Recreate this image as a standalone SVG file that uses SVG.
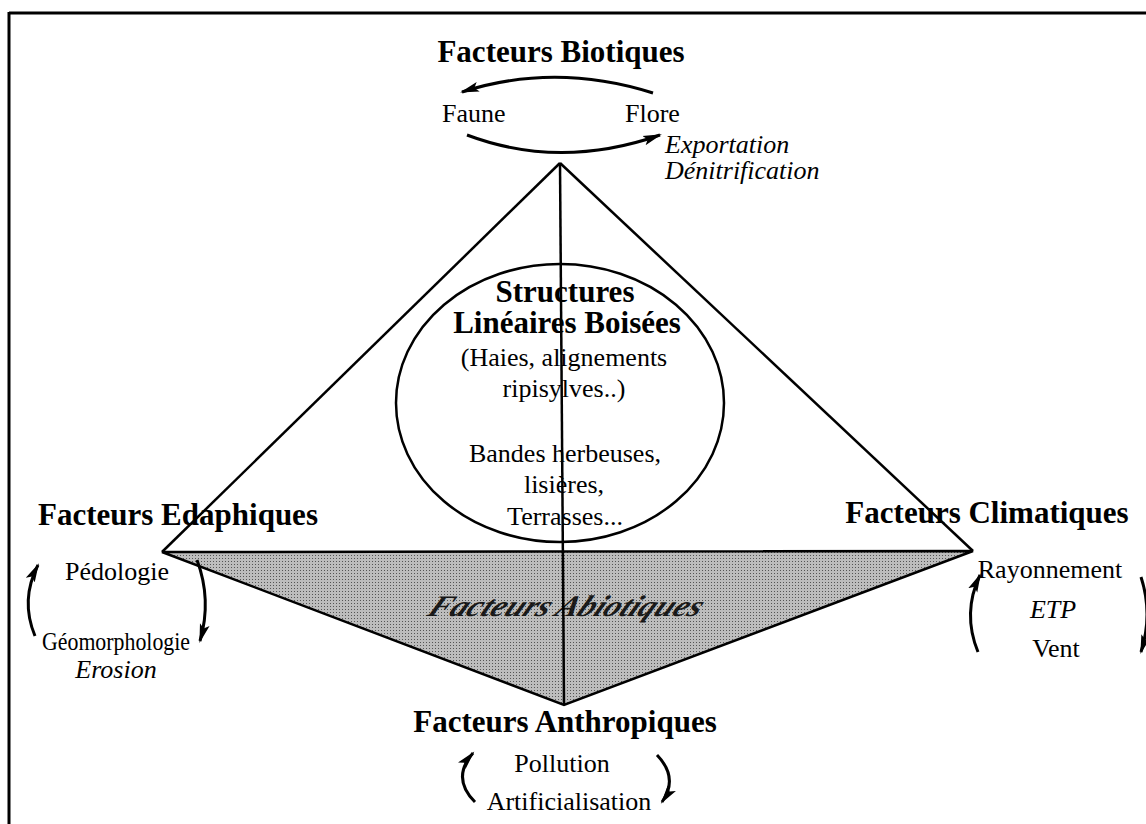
<svg xmlns="http://www.w3.org/2000/svg" width="1146" height="824" viewBox="0 0 1146 824">
<style>
.t{font-family:"Liberation Serif","Times New Roman",serif;fill:#000}
.b{font-weight:bold;font-size:31px}
.r{font-size:26px}
.i{font-size:26px;font-style:italic}
.ln{stroke:#000;stroke-width:2.5;fill:none}
.arr{stroke:#000;stroke-width:3;fill:none;marker-end:url(#ah)}
</style>
<defs>
<marker id="ah" markerUnits="userSpaceOnUse" markerWidth="22" markerHeight="12" refX="17" refY="6" orient="auto">
<path d="M0,1 L19,6 L0,11 L4,6 z" fill="#000"/>
</marker>
<pattern id="dots" width="3" height="3" patternUnits="userSpaceOnUse">
<rect width="3" height="3" fill="#bdbdbd"/>
<rect width="1" height="1" fill="#555"/>
</pattern>
</defs>
<rect width="1146" height="824" fill="#fff"/>
<g id="frame">
<line x1="9" y1="13" x2="1146" y2="13" stroke="#000" stroke-width="3"/>
<line x1="9" y1="12" x2="9" y2="824" stroke="#000" stroke-width="3"/>
</g>
<g id="abiotic">
<polygon points="162,552 973,551 564,705" fill="url(#dots)" stroke="#000" stroke-width="2.5"/>
<g transform="translate(567,606) skewX(-28)">
<text class="t" x="0" y="10" text-anchor="middle" font-size="30" font-style="italic" font-weight="bold" fill="#222" textLength="272" lengthAdjust="spacingAndGlyphs" opacity="0.85">Facteurs Abiotiques</text>
</g>
</g>
<g id="connectors">
<line class="ln" x1="560" y1="163" x2="162" y2="552"/>
<line class="ln" x1="560" y1="163" x2="973" y2="551"/>
<line class="ln" x1="560" y1="163" x2="564" y2="705"/>
<path class="arr" d="M653 93 Q555 62 462 92"/>
<path class="arr" d="M467 135 Q560 170 660 135"/>
<path class="arr" d="M35 636 Q20 600 38 565"/>
<path class="arr" d="M197 560 Q212 600 200 641"/>
<path class="arr" d="M978 652 Q962 613 980 575"/>
<path class="arr" d="M1141 577 Q1153 614 1141 652"/>
<path class="arr" d="M475 802 Q451 778 473 753"/>
<path class="arr" d="M657 755 Q679 778 662 802"/>
</g>
<g id="biotic">
<text class="t b" x="561" y="62" text-anchor="middle">Facteurs Biotiques</text>
<text class="t r" x="442" y="122">Faune</text>
<text class="t r" x="625" y="122">Flore</text>
<text class="t i" x="665" y="153">Exportation</text>
<text class="t i" x="665" y="179">Dénitrification</text>
</g>
<g id="structures">
<ellipse cx="560" cy="403" rx="164" ry="139" class="ln"/>
<text class="t b" x="565" y="302" text-anchor="middle">Structures</text>
<text class="t b" x="567" y="333" text-anchor="middle">Linéaires Boisées</text>
<text class="t r" x="564" y="366" text-anchor="middle">(Haies, alignements</text>
<text class="t r" x="564" y="397" text-anchor="middle">ripisylves..)</text>
<text class="t r" x="565" y="462" text-anchor="middle">Bandes herbeuses,</text>
<text class="t r" x="564" y="493" text-anchor="middle">lisières,</text>
<text class="t r" x="565" y="525" text-anchor="middle">Terrasses...</text>
</g>
<g id="edaphic">
<text class="t b" x="178" y="525" text-anchor="middle">Facteurs Edaphiques</text>
<text class="t r" x="117" y="580" text-anchor="middle">Pédologie</text>
<text class="t r" x="42" y="650" textLength="148" lengthAdjust="spacingAndGlyphs">Géomorphologie</text>
<text class="t i" x="116" y="678" text-anchor="middle">Erosion</text>
</g>
<g id="climatic">
<text class="t b" x="987" y="523" text-anchor="middle">Facteurs Climatiques</text>
<text class="t r" x="1050" y="578" text-anchor="middle">Rayonnement</text>
<text class="t i" x="1053" y="618" text-anchor="middle">ETP</text>
<text class="t r" x="1056" y="657" text-anchor="middle">Vent</text>
</g>
<g id="anthropic">
<text class="t b" x="565" y="732" text-anchor="middle">Facteurs Anthropiques</text>
<text class="t r" x="562" y="772" text-anchor="middle">Pollution</text>
<text class="t r" x="569" y="810" text-anchor="middle">Artificialisation</text>
</g>
</svg>
